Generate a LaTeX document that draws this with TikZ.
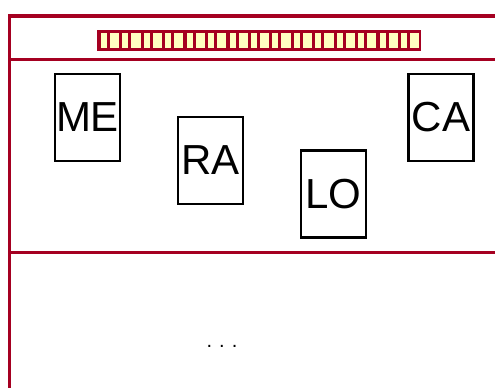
\documentclass[tikz,border=0pt]{standalone}
\usepackage{fontspec}
\setmainfont{Liberation Sans}
\usetikzlibrary{positioning}
\definecolor{crimson}{RGB}{165,0,33}
\definecolor{paleyellow}{RGB}{255,255,192}

\begin{document}
\begin{tikzpicture}[x=1pt,y=-1pt,
    lane/.style={crimson,line width=3.2pt},
    card/.style={draw=black,line width=2.4pt,fill=white,inner sep=0pt,
      minimum width=65pt,minimum height=87pt,font=\fontsize{42}{50}\selectfont}]
        \useasboundingbox (0,0) rectangle (495,388);
        % pool frame
        \coordinate (topleft) at (9.5,16);
        \coordinate (topright) at (495,16);
        \coordinate (botleft) at (9.5,388);
        \draw[lane] (topright) -- (topleft) -- (botleft);
        \draw[lane] (9.5,59.5) -- (495,59.5);
        \draw[lane] (9.5,252.5) -- (495,252.5);
        % striped header bar
        \fill[crimson] (97,30) rectangle (421,51);
        \foreach \i in {0,...,14}{
          \fill[paleyellow] (101+21.43*\i,33) rectangle ++(6,15);
          \fill[paleyellow] (110+21.43*\i,33) rectangle ++(9.2,15);
        }
        % cards
        \node[card] (me) at (87.5,117.5) {ME};
        \node[card] (ra) at (210.5,160.5) {RA};
        \node[card] (lo) at (333.5,194) {LO};
        \node[card] (ca) at (441,117.5) {CA};
        \node[anchor=base,inner sep=0pt,font=\fontsize{20}{24}\selectfont] (more) at (222,347) {.\kern7pt.\kern7pt.};
      \end{tikzpicture}
\end{document}
